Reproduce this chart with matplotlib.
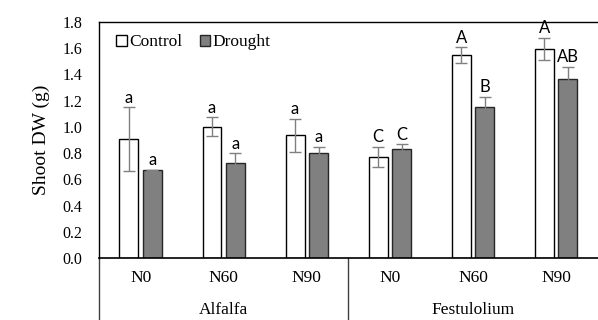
import numpy as np
import matplotlib.pyplot as plt
from matplotlib.patches import Patch
import matplotlib.transforms as mtransforms

# datos
nivel = ['N0', 'N60', 'N90', 'N0', 'N60', 'N90']
especie = ['Alfalfa', 'Festulolium']
control = [0.905, 1.00, 0.936, 0.773, 1.548, 1.594]
control_err = [0.245, 0.073, 0.127, 0.077, 0.059, 0.086]
sequia = [0.669, 0.727, 0.800, 0.831, 1.154, 1.365]
sequia_err = [0.005, 0.070, 0.050, 0.036, 0.076, 0.094]
letras_control = ['a', 'a', 'a', 'C', 'A', 'A']
letras_sequia = ['a', 'a', 'a', 'C', 'B', 'AB']

plt.rcParams['font.family'] = 'Liberation Serif'

fig = plt.figure(figsize=(5.98, 3.20), dpi=100)
ax = fig.add_axes([0.1656, 0.194, 0.834, 0.737])

x = np.arange(len(nivel))
w = 0.228
off = 0.141
err_kw = dict(ecolor='#808080', elinewidth=1, capsize=4, capthick=1)
ax.bar(x - off, control, w, yerr=control_err, color='white', edgecolor='black',
       linewidth=1, error_kw=err_kw, label='Control')
ax.bar(x + off, sequia, w, yerr=sequia_err, color='#808080', edgecolor='#262626',
       linewidth=1, error_kw=err_kw, label='Drought')

for i in range(len(nivel)):
    ax.text(x[i] - off, control[i] + control_err[i] + 0.01, letras_control[i],
            ha='center', va='bottom', fontsize=12, family='Lato')
    ax.text(x[i] + off, sequia[i] + sequia_err[i] + 0.01, letras_sequia[i],
            ha='center', va='bottom', fontsize=12, family='Lato')

ax.set_xlim(-0.5, 5.5)
ax.set_ylim(0, 1.8)
ax.set_yticks(np.arange(0, 1.81, 0.2))
ax.set_yticklabels(['%.1f' % v for v in np.arange(0, 1.81, 0.2)], fontsize=11.5)
ax.tick_params(axis='y', length=0, pad=12)
ax.set_xticks([])
ax.spines['right'].set_visible(False)
ax.spines['top'].set_linewidth(1)
ax.spines['left'].set_linewidth(1)
ax.spines['bottom'].set_linewidth(1.2)
ax.set_ylabel('Shoot DW (g)', fontsize=14, labelpad=9)

# etiquetas de categoria debajo del eje
trans = mtransforms.blended_transform_factory(ax.transData, ax.transAxes)
for i, n in enumerate(nivel):
    ax.text(x[i], -0.085, n, transform=trans, ha='center', va='center', fontsize=12.5)
ax.text(1, -0.22, especie[0], transform=trans, ha='center', va='center', fontsize=12.5)
ax.text(4, -0.22, especie[1], transform=trans, ha='center', va='center', fontsize=12.5)
for xs in [-0.5, 2.5]:
    ax.plot([xs, xs], [0, -0.27], transform=trans, color='#404040', lw=1, clip_on=False)

handles = [Patch(facecolor='white', edgecolor='black', label='Control'),
           Patch(facecolor='#808080', edgecolor='#262626', label='Drought')]
ax.legend(handles=handles, loc='upper left', ncol=2, frameon=False, fontsize=12.5,
          handlelength=0.6, handleheight=0.6, handletextpad=0.15, columnspacing=1.0,
          borderaxespad=0.3, bbox_to_anchor=(0.01, 1.0))

fig.savefig('out.png', dpi=100)
